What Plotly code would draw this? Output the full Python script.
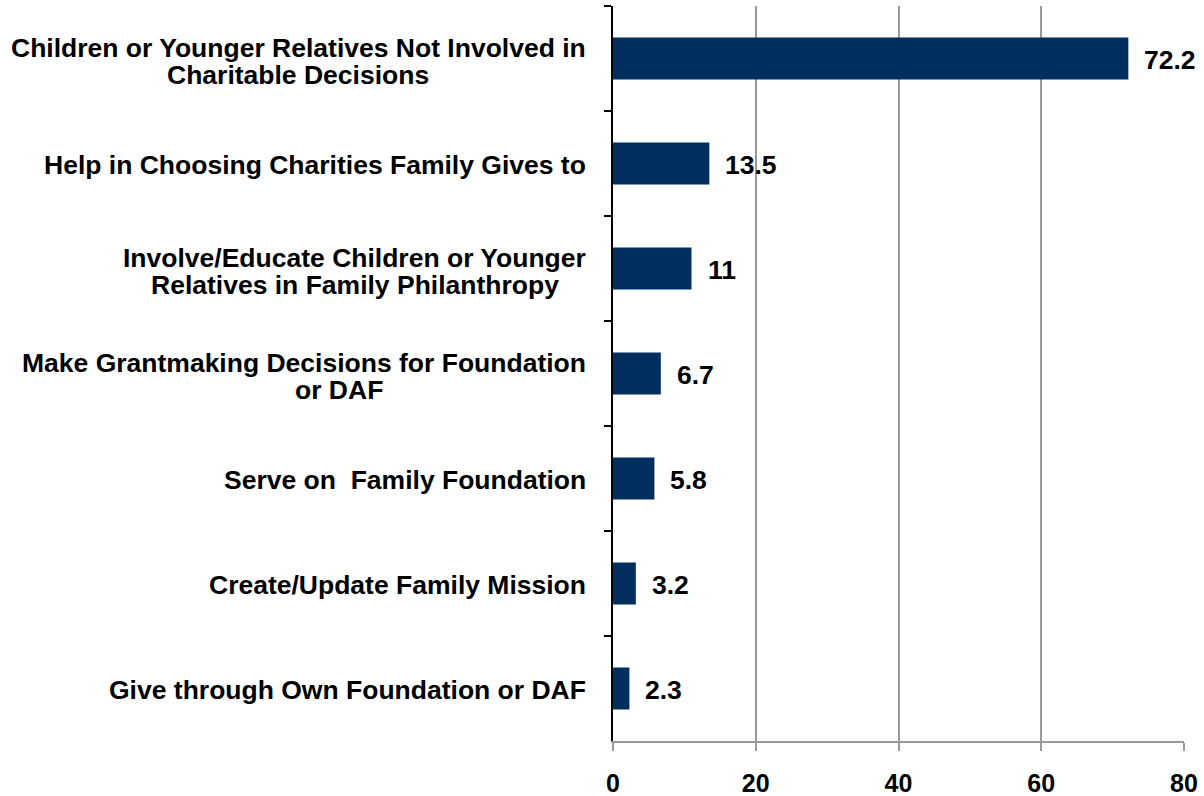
import plotly.graph_objects as go

categories = [
    ["Children or Younger Relatives Not Involved in", "Charitable Decisions"],
    ["Help in Choosing Charities Family Gives to"],
    ["Involve/Educate Children or Younger", "Relatives in Family Philanthropy"],
    ["Make Grantmaking Decisions for Foundation", "or DAF"],
    ["Serve on  Family Foundation"],
    ["Create/Update Family Mission"],
    ["Give through Own Foundation or DAF"],
]
values = [72.2, 13.5, 11, 6.7, 5.8, 3.2, 2.3]
value_labels = ["72.2", "13.5", "11", "6.7", "5.8", "3.2", "2.3"]
x_ticks = [0, 20, 40, 60, 80]

# layout: horizontal centre of the second label line, px left of the axis
second_line_center = {0: 315, 2: 258, 3: 274}

FONT = "Liberation Sans, Arial, sans-serif"
FS = 26.5
ids = [f"c{i}" for i in range(len(categories))]

fig = go.Figure(go.Bar(
    x=values, y=ids, orientation="h",
    marker=dict(color="#002F5F", line=dict(width=0)),
    width=0.4, hoverinfo="skip",
))

annotations = []
for i, (cid, lines) in enumerate(zip(ids, categories)):
    if len(lines) == 1:
        annotations.append(dict(
            x=0, xref="paper", y=cid, yref="y", text=f"<b>{lines[0]}</b>",
            xanchor="right", yanchor="middle", xshift=-25, yshift=-1.5,
            showarrow=False, font=dict(family=FONT, size=FS, color="black"),
        ))
    else:
        annotations.append(dict(
            x=0, xref="paper", y=cid, yref="y", text=f"<b>{lines[0]}</b>",
            xanchor="right", yanchor="middle", xshift=-25, yshift=11,
            showarrow=False, font=dict(family=FONT, size=FS, color="black"),
        ))
        annotations.append(dict(
            x=0, xref="paper", y=cid, yref="y", text=f"<b>{lines[1]}</b>",
            xanchor="center", yanchor="middle", xshift=-second_line_center[i], yshift=-16.5,
            showarrow=False, font=dict(family=FONT, size=FS, color="black"),
        ))
for cid, v, lab in zip(ids, values, value_labels):
    annotations.append(dict(
        x=v, xref="x", y=cid, yref="y", text=f"<b>{lab}</b>",
        xanchor="left", yanchor="middle", xshift=14, yshift=-1.5,
        showarrow=False, font=dict(family=FONT, size=FS, color="black"),
    ))

fig.update_layout(
    width=1204, height=796,
    margin=dict(l=613, r=20, t=6, b=55, autoexpand=False),
    paper_bgcolor="white", plot_bgcolor="white",
    showlegend=False,
    annotations=annotations,
    xaxis=dict(
        range=[0, 80], tickvals=x_ticks, ticktext=[f"<b>{t}</b>" for t in x_ticks],
        showgrid=True, gridcolor="#999999", gridwidth=1.5,
        showline=True, linecolor="#999999", linewidth=1.5,
        ticks="outside", ticklen=8, tickcolor="#999999", tickwidth=1.5,
        tickfont=dict(family=FONT, size=25, color="black"),
        ticklabelstandoff=11, automargin=False,
        zeroline=False,
    ),
    yaxis=dict(
        categoryorder="array", categoryarray=ids, autorange="reversed",
        showticklabels=False, tickson="boundaries", automargin=False,
        ticks="outside", ticklen=7, tickcolor="black", tickwidth=1.5,
        showline=True, linecolor="black", linewidth=1.5,
        showgrid=False, zeroline=False,
    ),
)

fig.write_html("out.html", config={"displayModeBar": False},
               post_script="document.body.style.margin='0';document.body.style.padding='0';")
